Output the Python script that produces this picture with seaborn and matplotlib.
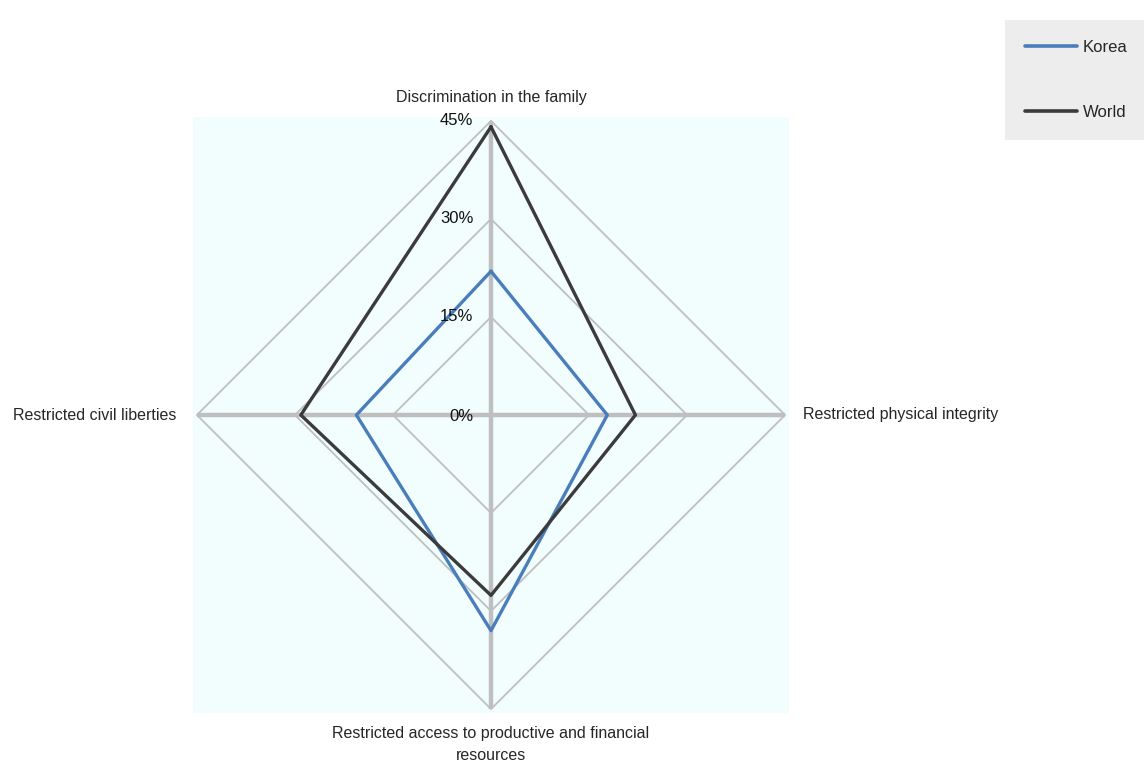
import numpy as np
import pandas as pd
import matplotlib
matplotlib.use("Agg")
import matplotlib.pyplot as plt
import seaborn as sns
from matplotlib import font_manager

categories = ["Discrimination in the family",
              "Restricted physical integrity",
              "Restricted access to productive and financial\nresources",
              "Restricted civil liberties"]
korea = [22.0, 17.8, 33.0, 20.6]
world = [44.1, 22.1, 27.6, 29.1]
series_names = ["Korea", "World"]
ticks = [0, 15, 30, 45]
tick_labels = ["0%", "15%", "30%", "45%"]

sns.set_style("white")
names = {f.name for f in font_manager.fontManager.ttflist}
fam = "Liberation Sans Narrow" if "Liberation Sans Narrow" in names else "Liberation Sans"
plt.rcParams['font.family'] = [fam, 'DejaVu Sans']

angles = np.deg2rad([90, 0, -90, 180])

rows = []
for name, vals in zip(series_names, [korea, world]):
    for i in list(range(len(vals))) + [0]:
        rows.append({"series": name, "order": len(rows),
                     "x": vals[i] * np.cos(angles[i]),
                     "y": vals[i] * np.sin(angles[i])})
df = pd.DataFrame(rows)

fig = plt.figure(figsize=(11.44, 7.70), dpi=100)
ax = fig.add_axes([193/1144, 1 - 713/770, 596/1144, 596/770])
ax.set_facecolor("#f2fefe")
lim = 45.6
ax.set_xlim(-lim, lim)
ax.set_ylim(-lim, lim)
for s in ax.spines.values():
    s.set_visible(False)
ax.set_xticks([])
ax.set_yticks([])

grid_c = "#bfbfbf"
for r in ticks[1:]:
    gx = [r * np.cos(a) for a in angles] + [r * np.cos(angles[0])]
    gy = [r * np.sin(a) for a in angles] + [r * np.sin(angles[0])]
    ax.plot(gx, gy, color=grid_c, lw=1.3, zorder=1)
rmax = ticks[-1]
for a in angles:
    ax.plot([0, rmax * np.cos(a)], [0, rmax * np.sin(a)], color=grid_c, lw=3.2, zorder=1,
            solid_capstyle="butt")

palette = {"Korea": "#4a7ebb", "World": "#3b3b3b"}
sns.lineplot(data=df, x="x", y="y", hue="series", sort=False, estimator=None,
             units="series", palette=palette, lw=2.4, ax=ax, zorder=3)
ax.set_xlabel("")
ax.set_ylabel("")

for r, lab in zip(ticks, tick_labels):
    ax.text(-2.7, r + (-0.3 if r == 0 else 0.0), lab, ha="right", va="center", fontsize=12, color="#111111", zorder=4)

fs = 11.5
ax.text(0, rmax + 3.6, categories[0], ha="center", va="center", fontsize=fs, clip_on=False)
ax.text(rmax + 2.7, 0, categories[1], ha="left", va="center", fontsize=fs, clip_on=False)
ax.text(0, -rmax - 2.6, categories[2], ha="center", va="top", fontsize=fs, clip_on=False,
        linespacing=1.55)
ax.text(-rmax - 3.1, 0, categories[3], ha="right", va="center", fontsize=fs, clip_on=False)

sns.move_legend(ax, loc="upper right", bbox_to_anchor=(1.003, 1 - 20/770),
                bbox_transform=fig.transFigure, title=None, frameon=True,
                fontsize=12, labelspacing=3.0, handlelength=3.1, handletextpad=0.35,
                borderpad=1.2, borderaxespad=0)
leg = ax.get_legend()
leg.get_frame().set_facecolor("#e9e9e9")
leg.get_frame().set_edgecolor("none")
leg.get_frame().set_boxstyle("square", pad=0)
for h in leg.legend_handles:
    h.set_linewidth(2.6)

fig.savefig("out.png", dpi=100)
